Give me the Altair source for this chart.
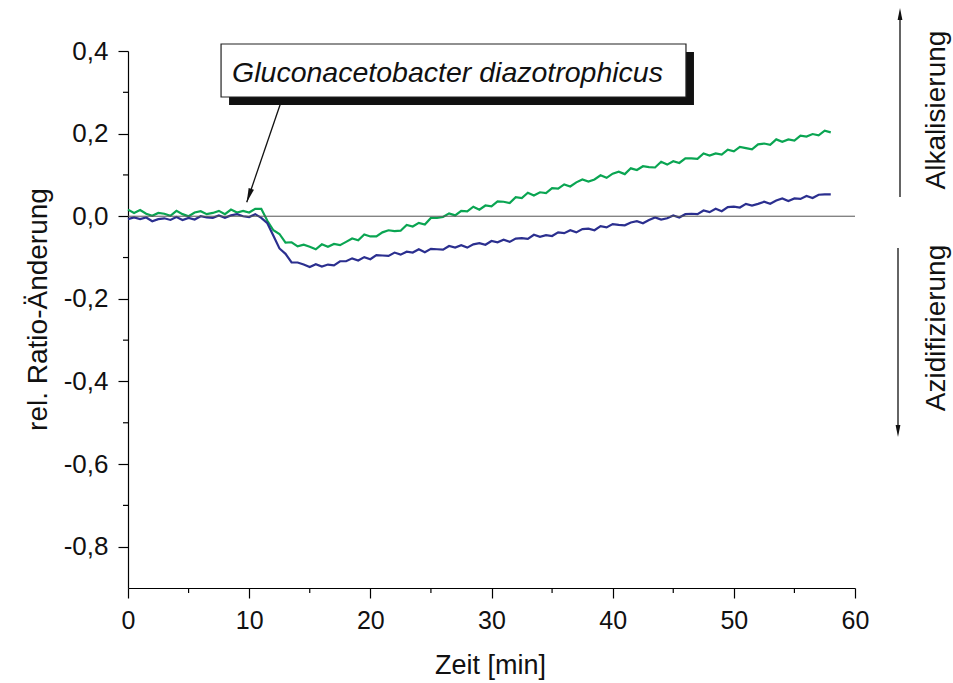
import altair as alt
import pandas as pd

# ---------------- data ----------------
time_min = [
    0.0, 0.5, 1.0, 1.5, 2.0, 2.5, 3.0, 3.5, 4.0, 4.5, 5.0, 5.5, 6.0, 6.5, 7.0, 7.5,
    8.0, 8.5, 9.0, 9.5, 10.0, 10.5, 11.0, 11.5, 12.0, 12.5, 13.0, 13.5, 14.0, 14.5,
    15.0, 15.5, 16.0, 16.5, 17.0, 17.5, 18.0, 18.5, 19.0, 19.5, 20.0, 20.5, 21.0,
    21.5, 22.0, 22.5, 23.0, 23.5, 24.0, 24.5, 25.0, 25.5, 26.0, 26.5, 27.0, 27.5,
    28.0, 28.5, 29.0, 29.5, 30.0, 30.5, 31.0, 31.5, 32.0, 32.5, 33.0, 33.5, 34.0,
    34.5, 35.0, 35.5, 36.0, 36.5, 37.0, 37.5, 38.0, 38.5, 39.0, 39.5, 40.0, 40.5,
    41.0, 41.5, 42.0, 42.5, 43.0, 43.5, 44.0, 44.5, 45.0, 45.5, 46.0, 46.5, 47.0,
    47.5, 48.0, 48.5, 49.0, 49.5, 50.0, 50.5, 51.0, 51.5, 52.0, 52.5, 53.0, 53.5,
    54.0, 54.5, 55.0, 55.5, 56.0, 56.5, 57.0, 57.5, 58.0,
]

green_ratio = [
    0.016, 0.008, 0.015, 0.006, 0.001, 0.008, 0.006, 0.001, 0.013, 0.005, 0.000,
    0.009, 0.012, 0.005, 0.008, 0.013, 0.005, 0.016, 0.009, 0.013, 0.009, 0.018,
    0.018, -0.011, -0.034, -0.043, -0.064, -0.063, -0.073, -0.069, -0.074, -0.080,
    -0.068, -0.074, -0.067, -0.070, -0.062, -0.054, -0.058, -0.044, -0.049, -0.049,
    -0.039, -0.034, -0.036, -0.035, -0.021, -0.025, -0.016, -0.020, -0.004, -0.004,
    -0.002, 0.007, 0.002, 0.013, 0.012, 0.023, 0.016, 0.026, 0.024, 0.036, 0.035,
    0.032, 0.046, 0.044, 0.057, 0.050, 0.058, 0.056, 0.068, 0.067, 0.077, 0.072,
    0.082, 0.089, 0.084, 0.089, 0.099, 0.093, 0.103, 0.108, 0.102, 0.116, 0.112,
    0.121, 0.119, 0.118, 0.132, 0.125, 0.133, 0.129, 0.140, 0.140, 0.139, 0.152,
    0.147, 0.152, 0.149, 0.161, 0.157, 0.168, 0.165, 0.162, 0.174, 0.176, 0.173,
    0.186, 0.180, 0.186, 0.183, 0.195, 0.193, 0.199, 0.196, 0.207, 0.203,
]

blue_ratio = [
    -0.007, -0.003, -0.007, -0.003, -0.012, -0.007, -0.005, -0.009, -0.002, -0.009,
    -0.004, -0.008, 0.000, -0.003, -0.004, 0.002, -0.004, 0.002, 0.005, 0.000,
    -0.002, 0.005, -0.004, -0.017, -0.047, -0.078, -0.091, -0.112, -0.112, -0.117,
    -0.123, -0.116, -0.122, -0.117, -0.119, -0.109, -0.109, -0.102, -0.107, -0.099,
    -0.104, -0.094, -0.095, -0.096, -0.088, -0.093, -0.086, -0.088, -0.080, -0.087,
    -0.079, -0.080, -0.081, -0.072, -0.076, -0.070, -0.076, -0.068, -0.065, -0.069,
    -0.060, -0.063, -0.057, -0.062, -0.054, -0.053, -0.055, -0.045, -0.050, -0.046,
    -0.048, -0.039, -0.041, -0.034, -0.039, -0.031, -0.030, -0.034, -0.024, -0.027,
    -0.019, -0.021, -0.022, -0.015, -0.012, -0.017, -0.009, -0.003, -0.008, -0.005,
    0.002, -0.003, 0.005, 0.006, 0.005, 0.014, 0.010, 0.018, 0.012, 0.022, 0.023,
    0.021, 0.030, 0.026, 0.030, 0.035, 0.030, 0.038, 0.043, 0.037, 0.043, 0.042,
    0.049, 0.044, 0.052, 0.053, 0.053,
]

x_major = [0, 10, 20, 30, 40, 50, 60]
x_minor = [5, 15, 25, 35, 45, 55]
y_major = [-0.8, -0.6, -0.4, -0.2, 0.0, 0.2, 0.4]
y_minor = [-0.7, -0.5, -0.3, -0.1, 0.1, 0.3]

annotation_text = "Gluconacetobacter diazotrophicus"
label_up = "Alkalisierung"
label_down = "Azidifizierung"

# ---------------- styling ----------------
FONT = "Liberation Sans"
GREEN = "#0aa552"
BLUE = "#2b2f8f"
W, H = 727, 537

xs = alt.Scale(domain=[0, 60], nice=False, zero=False)
ys = alt.Scale(domain=[-0.9, 0.4], nice=False, zero=False)

x_axis = alt.Axis(
    values=x_major, title="Zeit [min]", grid=False, labelFlush=False,
    tickSize=10, tickWidth=1.2, tickColor="black",
    domainColor="black", domainWidth=1.2,
    labelFont=FONT, labelFontSize=25, labelColor="#111", labelPadding=10,
    titleFont=FONT, titleFontSize=27, titleFontWeight="normal", titleColor="#111",
    titleX=362, titleY=85, titleBaseline="alphabetic", titleAlign="center",
)
y_axis = alt.Axis(
    values=y_major, title="rel. Ratio-Änderung", grid=False, labelFlush=False,
    tickSize=10, tickWidth=1.2, tickColor="black",
    domainColor="black", domainWidth=1.2,
    labelFont=FONT, labelFontSize=26, labelColor="#111", labelPadding=10,
    labelExpr="(datum.value < 0 ? '-' : '') + replace(format(abs(datum.value), '.1f'), '.', ',')",
    titleFont=FONT, titleFontSize=28, titleFontWeight="normal", titleColor="#111",
    titleAngle=270, titleX=-82, titleY=258, titleBaseline="alphabetic", titleAlign="center",
)


def X(field):
    return alt.X(field, type="quantitative", scale=xs, axis=x_axis)


def Y(field):
    return alt.Y(field, type="quantitative", scale=ys, axis=y_axis)


df = pd.DataFrame({"t": time_min, "green": green_ratio, "blue": blue_ratio})
one = pd.DataFrame({"a": [0]})

green_line = alt.Chart(df).mark_line(color=GREEN, strokeWidth=2.2).encode(
    x=X("t"), y=Y("green")
)
blue_line = alt.Chart(df).mark_line(color=BLUE, strokeWidth=2.2).encode(
    x=X("t"), y=Y("blue")
)

zero_line = alt.Chart(pd.DataFrame({"y": [0.0]})).mark_rule(
    color="#555", strokeWidth=1
).encode(y=Y("y"))

y_minor_ticks = alt.Chart(pd.DataFrame({"v": y_minor})).mark_rule(
    color="black", strokeWidth=1.2
).encode(y=Y("v"), x=alt.value(-5), x2=alt.value(0))

x_minor_ticks = alt.Chart(pd.DataFrame({"v": x_minor})).mark_rule(
    color="black", strokeWidth=1.2
).encode(x=X("v"), y=alt.value(H), y2=alt.value(H + 5))

# annotation box (data coordinates)
box_df = pd.DataFrame({"x1": [7.68], "x2": [46.05], "y1": [0.2886], "y2": [0.417]})
shadow = alt.Chart(box_df).mark_rect(
    color="#111", xOffset=8, x2Offset=8, yOffset=8, y2Offset=8
).encode(x=X("x1"), x2="x2", y=Y("y1"), y2="y2")
box = alt.Chart(box_df).mark_rect(fill="white", stroke="#222", strokeWidth=1.2).encode(
    x=X("x1"), x2="x2", y=Y("y1"), y2="y2"
)
box_text = alt.Chart(pd.DataFrame({"x": [26.37], "y": [0.325]})).mark_text(
    font=FONT, fontSize=28.5, fontStyle="italic", align="center", baseline="alphabetic",
    color="#111",
).encode(x=X("x"), y=Y("y"), text=alt.value(annotation_text))

arrow_df = pd.DataFrame({"x": [12.77], "y": [0.2886], "x2": [9.80], "y2": [0.034]})
arrow_line = alt.Chart(arrow_df).mark_rule(color="#111", strokeWidth=1.3).encode(
    x=X("x"), y=Y("y"), x2="x2", y2="y2"
)
DOWN_HEAD = "M0,0 L-0.4,-2 L0.4,-2 Z"
UP_HEAD = "M0,0 L-0.4,2 L0.4,2 Z"
arrow_head = alt.Chart(arrow_df).mark_point(
    shape=DOWN_HEAD, filled=True, size=196, color="#111", opacity=1, angle=19,
    strokeWidth=0,
).encode(x=X("x2"), y=Y("y2"))

# right-side direction arrows (outside plot area, pixel positions)
up_line = alt.Chart(one).mark_rule(color="#111", strokeWidth=1.3).encode(
    x=alt.value(772), y=alt.value(-38), y2=alt.value(146)
)
up_head = alt.Chart(one).mark_point(
    shape=UP_HEAD, filled=True, size=144, color="#111", opacity=1, strokeWidth=0
).encode(x=alt.value(772), y=alt.value(-43))
down_line = alt.Chart(one).mark_rule(color="#111", strokeWidth=1.3).encode(
    x=alt.value(770), y=alt.value(197), y2=alt.value(381)
)
down_head = alt.Chart(one).mark_point(
    shape=DOWN_HEAD, filled=True, size=144, color="#111", opacity=1, strokeWidth=0
).encode(x=alt.value(770), y=alt.value(386))

up_text = alt.Chart(one).mark_text(
    font=FONT, fontSize=28, angle=270, align="center", baseline="alphabetic", color="#111"
).encode(x=alt.value(817), y=alt.value(59), text=alt.value(label_up))
down_text = alt.Chart(one).mark_text(
    font=FONT, fontSize=28, angle=270, align="center", baseline="alphabetic", color="#111"
).encode(x=alt.value(817), y=alt.value(277), text=alt.value(label_down))

chart = alt.layer(
    green_line, blue_line, zero_line, y_minor_ticks, x_minor_ticks,
    arrow_line, arrow_head, shadow, box, box_text,
    up_line, up_head, down_line, down_head, up_text, down_text,
).properties(
    width=W, height=H,
    padding={"left": 128, "top": 51, "right": 98, "bottom": 95},
    autosize=alt.AutoSizeParams(type="none"),
    background="white",
).configure_view(stroke=None)

chart.save("out.html", embed_options={"renderer": "svg", "actions": False})
